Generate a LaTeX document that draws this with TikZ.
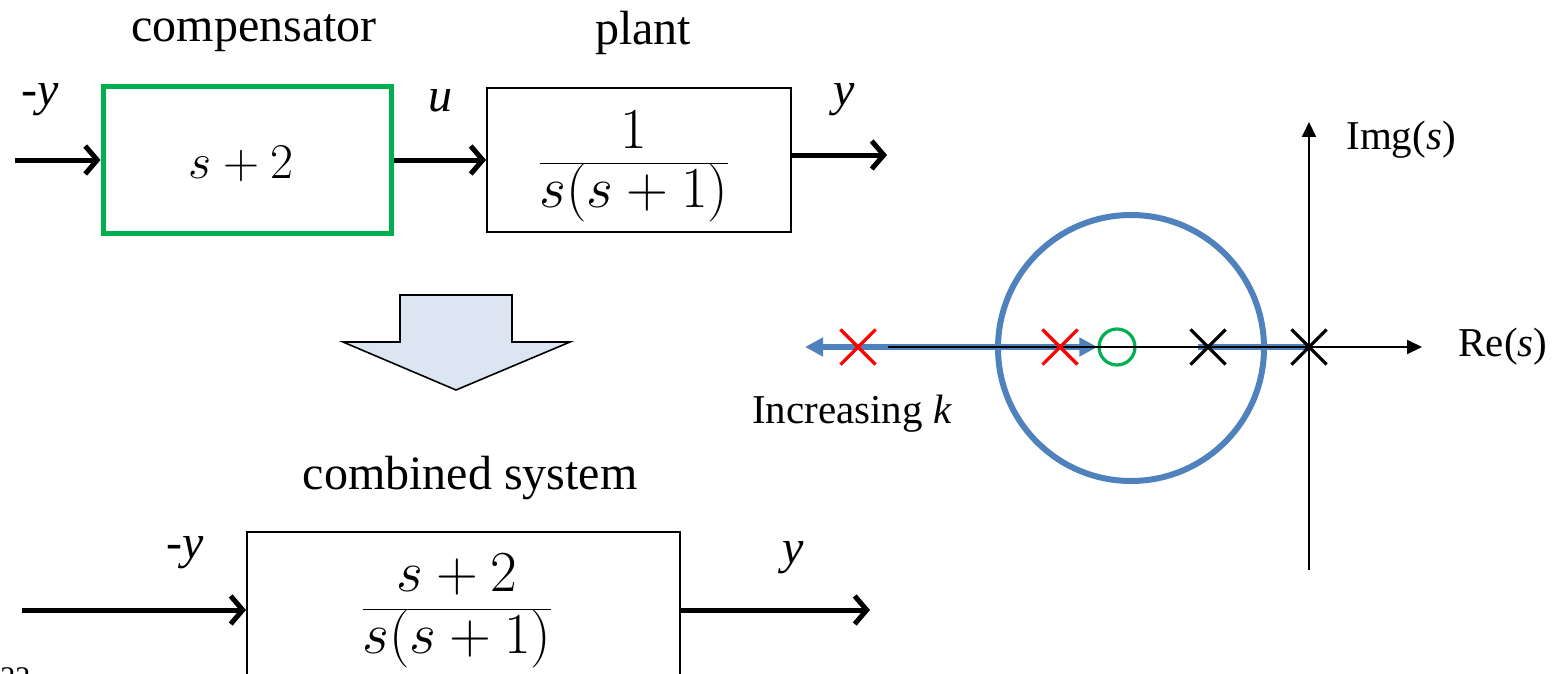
\RequirePackage{fix-cm}
\documentclass[tikz,border=0pt]{standalone}
\usepackage{fontspec}
\setmainfont{Liberation Serif}
\usetikzlibrary{arrows.meta,shapes.misc}
\definecolor{cgreen}{RGB}{0,176,80}
\definecolor{cblue}{RGB}{79,129,189}
\definecolor{cfill}{RGB}{220,230,242}
\definecolor{cred}{RGB}{255,0,0}
\begin{document}
\begin{tikzpicture}[x=0.5pt,y=-0.5pt,
  lbl/.style={font=\fontsize{24}{28}\selectfont, inner sep=0},
  rlbl/.style={font=\fontsize{20.5}{24}\selectfont, inner sep=0},
  mathtxt/.style={font=\fontsize{25}{30}\selectfont, inner sep=0},
  fractxt/.style={font=\fontsize{29}{34}\selectfont, inner sep=0, anchor=base},
  blockbox/.style={draw, rectangle, inner sep=0},
  sig/.style={line width=2.5pt, -{Straight Barb[length=6pt,width=14pt]}},
  axis/.style={line width=1pt, -{Triangle[length=7.5pt,width=7pt]}},
  locus/.style={cblue, line width=2.6pt},
  pole/.style={draw, cross out, minimum size=16pt, inner sep=0, line width=1.6pt},
]
\useasboundingbox (0,0) rectangle (1552,674);
\clip (0,0) rectangle (1552,674);

% ---- top block diagram ----
\node[lbl] (tcomp) at (254,33) {compensator};
\node[lbl] (tplant) at (643,33) {plant};
\node[blockbox, draw=cgreen, line width=2.5pt, minimum width=144pt, minimum height=73pt] (comp) at (247,160) {};
\node[mathtxt] (comptf) at (241,164) {$s+2$};
\node[blockbox, line width=1pt, minimum width=152pt, minimum height=72pt] (plant) at (639,160) {};
\node[fractxt] (planttf) at (634,177.5) {$\textstyle\frac{\raisebox{3pt}{$1$}}{\displaystyle s(s+1)}$};
\coordinate (in1) at (15,160);
\coordinate (out1) at (887,155);
\draw[sig] (in1) -- (comp.west);
\draw[sig] (comp.east) -- (plant.west);
\draw[sig] (plant.east |- out1) -- (out1);
\node[lbl] (lny1) at (40,100) {-\textit{y}};
\node[lbl] (lu) at (440,101) {\textit{u}};
\node[lbl] (ly1) at (844,100) {\textit{y}};

% ---- block arrow ----
\draw[fill=cfill, line width=0.8pt] (400,295) -- (512,295) -- (512,342) -- (570,342) -- (456,390) -- (343,342) -- (400,342) -- cycle;

% ---- combined system ----
\node[lbl] (tcomb) at (470,478) {combined system};
\node[blockbox, line width=1pt, minimum width=216.5pt, minimum height=78pt] (comb) at (463.5,610) {};
\node[fractxt] (combtf) at (457,623.5) {$\textstyle\frac{\raisebox{4.5pt}{$s+2$}}{\displaystyle s(s+1)}$};
\coordinate (in2) at (22,610);
\coordinate (out2) at (870,610);
\draw[sig] (in2) -- (comb.west);
\draw[sig] (comb.east) -- (out2);
\node[lbl] (lny2) at (185,553) {-\textit{y}};
\node[lbl] (ly2) at (793,558) {\textit{y}};

\node[anchor=north west, inner sep=0, font=\fontsize{15}{18}\selectfont] (pnum) at (0,667) {22};

% ---- root locus ----
\coordinate (O) at (1309,347);
\node[circle, draw=cgreen, line width=1.6pt, minimum size=18pt, inner sep=0] (z1) at (1117,347) {};
\coordinate (lft) at (805,347);
\coordinate (rl) at (1198,347);
\draw[locus, {Triangle[length=9pt,width=9pt]}-{Triangle[length=9pt,width=9pt]}] (lft) -- (z1.west);
\draw[locus] (rl) -- (O);
\draw[locus, line width=3pt] (1131,348) circle[radius=66.5pt];
\coordinate (rs) at (888,347);
\coordinate (re) at (1422,347);
\coordinate (ib) at (1309,570);
\coordinate (it) at (1309,122);
\draw[axis] (rs) -- (re);
\draw[axis] (ib) -- (it);
\node[pole, draw=cred] (p1) at (858,347) {};
\node[pole, draw=cred] (p2) at (1060,347) {};
\node[pole, draw=black] (p3) at (1208,347) {};
\node[pole, draw=black] (p4) at (O) {};
\node[rlbl] (lre) at (1503,347) {Re(\textit{s})};
\node[rlbl] (lim) at (1401,140) {Img(\textit{s})};
\node[rlbl] (linc) at (852,414) {Increasing \textit{k}};
\end{tikzpicture}
\end{document}
